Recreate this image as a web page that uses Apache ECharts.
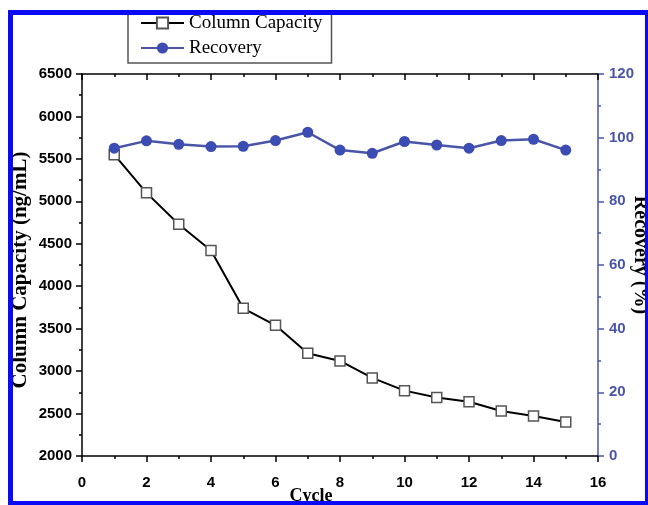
<!DOCTYPE html>
<html>
<head>
<meta charset="utf-8">
<script src="https://cdn.jsdelivr.net/npm/echarts@6/dist/echarts.min.js"></script>
<style>
html,body{margin:0;padding:0;background:#fff;}
#chart{width:648px;height:505px;}
</style>
</head>
<body>
<div id="chart"></div>
<script>
const cycles = [1,2,3,4,5,6,7,8,9,10,11,12,13,14,15];
const columnCapacity = [5550,5100,4730,4420,3740,3540,3210,3120,2920,2770,2690,2640,2530,2470,2400];
const recovery = [96.7,99.0,97.9,97.2,97.3,99.1,101.7,96.1,95.1,98.8,97.7,96.7,99.1,99.5,96.1];
const xTicks = {min:0, max:16, interval:2};
const leftTicks = {min:2000, max:6500, interval:500};
const rightTicks = {min:0, max:120, interval:20};

const blue = '#4a55a8';
const markBlue = '#3b4cb2';
const borderBlue = '#0a0af5';
const labelFont = {fontFamily:'Liberation Sans', fontWeight:'bold', fontSize:15};
const serifBold = (size, pad) => ({fontFamily:'Liberation Serif', fontWeight:'bold', fontSize:size, color:'#000', padding:pad});
const plain = v => String(v);

const chart = echarts.init(document.getElementById('chart'), null, {renderer:'canvas'});
chart.setOption({
  animation:false,
  backgroundColor:'#fff',
  grid:{left:82, right:50, top:74, bottom:49, containLabel:false, outerBoundsMode:'none'},
  legend:{
    orient:'vertical', left:128, top:13,
    padding:[0,9,5,12], itemGap:5,
    itemWidth:43, itemHeight:14,
    borderColor:'#555', borderWidth:1.5, backgroundColor:'#fff',
    textStyle:{fontFamily:'Liberation Serif', fontSize:19, color:'#000', lineHeight:20},
    data:['Column Capacity','Recovery']
  },
  xAxis:[{
    type:'value', min:xTicks.min, max:xTicks.max, interval:xTicks.interval,
    position:'bottom',
    name:'Cycle', nameLocation:'middle', nameGap:31, nameMoveOverlap:false, nameTextStyle:serifBold(18,[0,58,0,0]),
    axisLine:{show:true, onZero:false, lineStyle:{color:'#000', width:1.5}},
    axisTick:{show:true, inside:false, length:6, lineStyle:{color:'#000', width:1.5}},
    minorTick:{show:true, splitNumber:2, length:3, lineStyle:{color:'#000', width:1.5}},
    axisLabel:Object.assign({color:'#000', margin:19, formatter:plain}, labelFont),
    splitLine:{show:false}
  },{
    type:'value', min:xTicks.min, max:xTicks.max, interval:xTicks.interval,
    position:'top',
    axisLine:{show:true, onZero:false, lineStyle:{color:'#000', width:1.5}},
    axisTick:{show:true, inside:true, length:6, lineStyle:{color:'#000', width:1.5}},
    minorTick:{show:true, splitNumber:2, length:3, lineStyle:{color:'#000', width:1.5}},
    axisLabel:{show:false},
    splitLine:{show:false}
  }],
  yAxis:[{
    type:'value', min:leftTicks.min, max:leftTicks.max, interval:leftTicks.interval,
    position:'left',
    name:'Column Capacity (ng/mL)', nameLocation:'middle', nameGap:51, nameMoveOverlap:false, nameTextStyle:serifBold(21,[0,10,0,0]),
    axisLine:{show:true, onZero:false, lineStyle:{color:'#000', width:1.5}},
    axisTick:{show:true, inside:false, length:6, lineStyle:{color:'#000', width:1.5}},
    minorTick:{show:true, splitNumber:2, length:3, lineStyle:{color:'#000', width:1.5}},
    axisLabel:Object.assign({color:'#000', margin:10, formatter:plain}, labelFont),
    splitLine:{show:false}
  },{
    type:'value', min:rightTicks.min, max:rightTicks.max, interval:rightTicks.interval,
    position:'right',
    name:'Recovery (%)', nameLocation:'middle', nameGap:32, nameRotate:-90, nameMoveOverlap:false, nameTextStyle:serifBold(20,[0,20,0,0]),
    axisLine:{show:true, onZero:false, lineStyle:{color:blue, width:1.5}},
    axisTick:{show:true, inside:false, length:6, lineStyle:{color:blue, width:1.5}},
    minorTick:{show:true, splitNumber:2, length:3, lineStyle:{color:blue, width:1.5}},
    axisLabel:Object.assign({color:blue, margin:11, formatter:plain}, labelFont),
    splitLine:{show:false}
  }],
  series:[{
    name:'Column Capacity', type:'line', xAxisIndex:0, yAxisIndex:0, z:2,
    data:cycles.map((c,i)=>[c, columnCapacity[i]]),
    symbol:'rect', symbolSize:10,
    lineStyle:{color:'#000', width:2},
    itemStyle:{color:'#fff', borderColor:'#555', borderWidth:1.5}
  },{
    name:'Recovery', type:'line', xAxisIndex:0, yAxisIndex:1, z:3,
    data:cycles.map((c,i)=>[c, recovery[i]]),
    symbol:'circle', symbolSize:11,
    lineStyle:{color:blue, width:2.5},
    itemStyle:{color:markBlue, borderColor:markBlue, borderWidth:0}
  }],
  graphic:[
    {type:'rect', z:100, silent:true, shape:{x:8, y:10, width:5, height:495}, style:{fill:borderBlue}},
    {type:'rect', z:100, silent:true, shape:{x:8, y:10, width:640, height:5}, style:{fill:borderBlue}},
    {type:'rect', z:100, silent:true, shape:{x:645, y:10, width:3, height:495}, style:{fill:borderBlue}},
    {type:'rect', z:100, silent:true, shape:{x:8, y:501, width:640, height:4}, style:{fill:borderBlue}}
  ]
});
</script>
</body>
</html>
